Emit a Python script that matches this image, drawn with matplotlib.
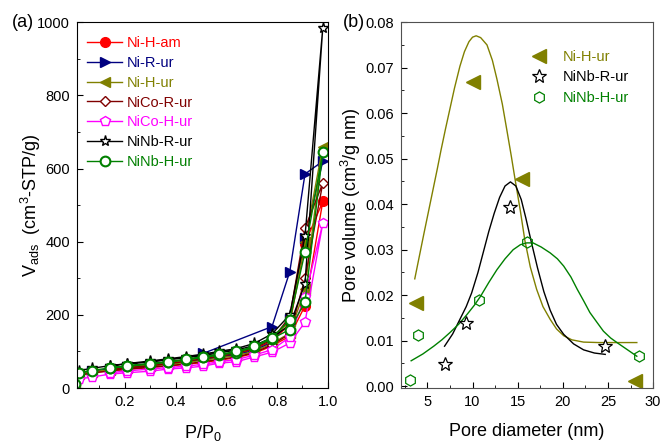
import numpy as np
import matplotlib
matplotlib.use("Agg")
import matplotlib.pyplot as plt
from matplotlib.ticker import MultipleLocator, FormatStrFormatter

plt.rcParams['font.family'] = ['Liberation Sans', 'DejaVu Sans']
plt.rcParams['mathtext.default'] = 'regular'

# (a) isotherms: adsorption branch then desorption branch
p_ads = [0.003, 0.02, 0.07, 0.14, 0.21, 0.30, 0.37, 0.44, 0.51, 0.57, 0.64, 0.71, 0.78, 0.85, 0.91, 0.98]
p_des = [0.91, 0.85, 0.78, 0.71, 0.64, 0.57, 0.51, 0.44, 0.37, 0.30, 0.21, 0.14]
p_des_nir = [0.91, 0.85, 0.78, 0.51]

names = ["Ni-H-am", "Ni-R-ur", "Ni-H-ur", "NiCo-R-ur", "NiCo-H-ur", "NiNb-R-ur", "NiNb-H-ur"]
ads = {
    "Ni-H-am":   [8, 36, 42, 47, 51, 56, 60, 65, 70, 76, 83, 95, 115, 142, 225, 510],
    "Ni-R-ur":   [10, 40, 46, 52, 57, 62, 67, 72, 78, 84, 91, 103, 125, 190, 410, 620],
    "Ni-H-ur":   [9, 38, 44, 50, 55, 60, 65, 70, 76, 82, 89, 100, 122, 150, 270, 660],
    "NiCo-R-ur": [8, 35, 41, 47, 52, 57, 61, 66, 72, 78, 85, 97, 118, 148, 300, 560],
    "NiCo-H-ur": [5, 25, 30, 38, 42, 46, 52, 55, 60, 68, 72, 85, 98, 123, 180, 450],
    "NiNb-R-ur": [12, 48, 54, 61, 66, 71, 77, 83, 89, 96, 104, 116, 138, 172, 285, 985],
    "NiNb-H-ur": [10, 42, 48, 55, 60, 66, 71, 77, 84, 90, 97, 112, 135, 160, 235, 645],
}
des = {
    "Ni-H-am":   [395, 175, 128, 106, 93, 85, 79, 72, 66, 61, 56, 50],
    "Ni-R-ur":   [585, 318, 168, 95],
    "Ni-H-ur":   [400, 182, 135, 110, 97, 89, 82, 76, 70, 64, 58, 52],
    "NiCo-R-ur": [437, 195, 132, 108, 95, 87, 80, 73, 67, 61, 56, 50],
    "NiCo-H-ur": [250, 139, 105, 90, 78, 72, 65, 60, 56, 52, 47, 42],
    "NiNb-R-ur": [415, 200, 148, 122, 108, 100, 93, 86, 80, 74, 67, 61],
    "NiNb-H-ur": [372, 186, 138, 114, 100, 92, 86, 79, 72, 67, 61, 55],
}

# (b) pore size distribution points
d_nihur = [3.7, 10.1, 15.5, 28.0]
v_nihur = [0.0182, 0.0669, 0.0456, 0.0011]
d_ninbr = [6.9, 9.3, 14.2, 24.7]
v_ninbr = [0.0048, 0.0140, 0.0394, 0.0088]
d_ninbh = [3.1, 4.0, 10.7, 16.0, 28.4]
v_ninbh = [0.0013, 0.0112, 0.0189, 0.0316, 0.0066]

# fitted curves
fit_d_nihur = [3.6, 4.1, 4.6, 5.1, 5.6, 6.1, 6.5, 7.0, 7.5, 8.0, 8.6, 9.1, 9.6, 10.0, 10.4, 10.9, 11.6, 12.2,
               12.7, 13.3, 13.8, 14.3, 14.7, 15.3, 15.8, 16.4, 17.1, 17.8, 18.6, 19.3, 20.1, 21.0, 22.3,
               24.0, 26.0, 28.2]
fit_v_nihur = [0.0236, 0.0285, 0.0334, 0.0382, 0.0430, 0.0478, 0.0518, 0.0565, 0.0610, 0.0655, 0.0703, 0.0735,
               0.0757, 0.0767, 0.0770, 0.0766, 0.0750, 0.0716, 0.0675, 0.0620, 0.0563, 0.0505, 0.0456,
               0.0385, 0.0320, 0.0262, 0.0213, 0.0175, 0.0147, 0.0126, 0.0111, 0.0102, 0.0097, 0.0096,
               0.0096, 0.0096]
fit_d_ninbr = [6.9, 7.8, 8.6, 9.3, 9.9, 10.6, 11.2, 11.8, 12.4, 13.0, 13.6, 14.2, 14.8, 15.4, 15.9, 16.5,
               17.2, 17.9, 18.6, 19.3, 20.1, 21.2, 22.3, 23.5, 24.7]
fit_v_ninbr = [0.0088, 0.0115, 0.0147, 0.0175, 0.0205, 0.0250, 0.0295, 0.0340, 0.0380, 0.0415, 0.0440,
               0.0449, 0.0440, 0.0410, 0.0370, 0.0318, 0.0260, 0.0208, 0.0167, 0.0136, 0.0114, 0.0093,
               0.0080, 0.0073, 0.0070]
fit_d_ninbh = [3.2, 4.5, 5.7, 6.6, 7.5, 8.5, 9.4, 10.2, 10.9, 11.8, 12.7, 13.6, 14.5, 15.3, 16.0, 16.7,
               17.6, 18.6, 19.4, 20.1, 20.9, 21.6, 22.3, 23.0, 23.8, 24.5, 25.3, 26.0, 27.1, 28.2]
fit_v_ninbh = [0.0056, 0.0071, 0.0088, 0.0102, 0.0118, 0.0137, 0.0158, 0.0178, 0.0198, 0.0228, 0.0256,
               0.0280, 0.0300, 0.0311, 0.0315, 0.0315, 0.0306, 0.0293, 0.0280, 0.0264, 0.0240, 0.0213,
               0.0188, 0.0162, 0.0140, 0.0121, 0.0106, 0.0096, 0.0081, 0.0066]

styles = {
    "Ni-H-am":   dict(color="#ff0000", marker="o", mfc="#ff0000"),
    "Ni-R-ur":   dict(color="#000080", marker=">", mfc="#000080"),
    "Ni-H-ur":   dict(color="#808000", marker="<", mfc="#808000"),
    "NiCo-R-ur": dict(color="#800000", marker="D", mfc="white", ms=5.5),
    "NiCo-H-ur": dict(color="#ff00ff", marker="p", mfc="white"),
    "NiNb-R-ur": dict(color="#000000", marker="*", mfc="white", ms=8),
    "NiNb-H-ur": dict(color="#008000", marker="o", mfc="white", mew=1.5),
}

fig = plt.figure(figsize=(6.61, 4.43), dpi=100)
ax1 = fig.add_axes([0.1165, 0.124, 0.3795, 0.826])
ax2 = fig.add_axes([0.607, 0.124, 0.381, 0.826])

for name in names:
    st = dict(ms=7, mew=1.0)
    st.update(styles[name])
    pd_ = p_des_nir if name == "Ni-R-ur" else p_des
    x = p_ads + pd_
    y = ads[name] + des[name]
    ax1.plot(x, y, lw=1.0, label=name, color=st["color"], marker=st["marker"],
             mfc=st["mfc"], mec=st["color"], ms=st["ms"], mew=st["mew"])

ax1.set_xlim(0.012, 1.0)
ax1.set_ylim(0, 1000)
ax1.xaxis.set_major_locator(MultipleLocator(0.2))
ax1.xaxis.set_minor_locator(MultipleLocator(0.1))
ax1.yaxis.set_major_locator(MultipleLocator(200))
ax1.yaxis.set_minor_locator(MultipleLocator(100))
ax1.xaxis.set_major_formatter(FormatStrFormatter('%.1f'))
ax1.set_xlabel("P/P$_0$", fontsize=13, labelpad=10)
ax1.set_ylabel("V$_{ads}$  (cm$^3$-STP/g)", fontsize=13)
ax1.yaxis.set_label_coords(-0.135, 0.5)
leg1 = ax1.legend(loc="upper left", frameon=False, fontsize=10.5, handlelength=2.4,
                  handletextpad=0.3, labelspacing=0.4, borderaxespad=0.3,
                  bbox_to_anchor=(0.0, 0.99))
for t, name in zip(leg1.get_texts(), names):
    t.set_color(styles[name]["color"])

# (b)
ax2.plot(fit_d_nihur, fit_v_nihur, color="#808000", lw=1.0)
ax2.plot(fit_d_ninbr, fit_v_ninbr, color="#000000", lw=1.0)
ax2.plot(fit_d_ninbh, fit_v_ninbh, color="#008000", lw=1.0)
ax2.plot(d_nihur, v_nihur, ls="none", marker="<", ms=10, color="#808000", label="Ni-H-ur", clip_on=False)
ax2.plot(d_ninbr, v_ninbr, ls="none", marker="*", ms=10, mfc="white", mec="black", mew=0.9,
         label="NiNb-R-ur", clip_on=False)
ax2.plot(d_ninbh, v_ninbh, ls="none", marker="h", ms=8, mfc="none", mec="#008000", mew=0.9,
         label="NiNb-H-ur", clip_on=False)
ax2.set_xlim(2.1, 30)
ax2.set_ylim(-0.0004, 0.08)
ax2.xaxis.set_major_locator(MultipleLocator(5))
ax2.xaxis.set_minor_locator(MultipleLocator(2.5))
ax2.yaxis.set_major_locator(MultipleLocator(0.01))
ax2.yaxis.set_minor_locator(MultipleLocator(0.005))
ax2.yaxis.set_major_formatter(FormatStrFormatter('%.2f'))
ax2.set_xlabel("Pore diameter (nm)", fontsize=13, labelpad=10)
ax2.set_ylabel("Pore volume (cm$^3$/g nm)", fontsize=13)
ax2.yaxis.set_label_coords(-0.15, 0.5)
leg2 = ax2.legend(loc="upper right", frameon=False, fontsize=10.5, handlelength=1.2,
                  handletextpad=1.0, labelspacing=0.45, bbox_to_anchor=(0.955, 0.96))
for t, c in zip(leg2.get_texts(), ["#808000", "black", "#008000"]):
    t.set_color(c)

for ax in (ax1, ax2):
    ax.tick_params(which="both", direction="in", labelsize=10.5, top=False, right=False)
    ax.tick_params(which="major", length=4, pad=5)
    ax.tick_params(which="minor", length=2)
for sp in ax2.spines.values():
    sp.set_color("#505050")

fig.text(0.018, 0.950, "(a)", fontsize=13, va="center")
fig.text(0.518, 0.950, "(b)", fontsize=13, va="center")

fig.savefig("out.png", dpi=100)
